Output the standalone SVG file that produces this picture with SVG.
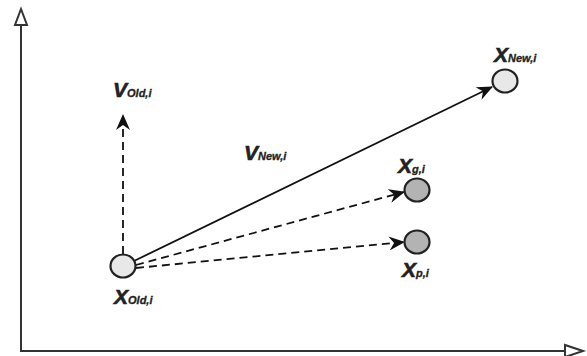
<svg xmlns="http://www.w3.org/2000/svg" width="587" height="356" viewBox="0 0 587 356">
<style>
.ax{stroke:#333;stroke-width:2;fill:none}
.tri{fill:#fff;stroke:#333;stroke-width:2}
.con{stroke:#111;stroke-width:1.8;fill:none}
.dash{stroke-dasharray:8 5}
.node{stroke:#222;stroke-width:2.2}
.light{fill:#e8e8e8}
.dark{fill:#b3b3b3}
.big{font-family:"Liberation Sans",Arial,sans-serif;font-weight:bold;font-style:italic;font-size:21px;fill:#222;stroke:#222;stroke-width:0.6}
.sub{font-size:11px;stroke-width:0.3}
</style>
<defs>
<marker id="ah" markerWidth="16" markerHeight="14" refX="15" refY="7" orient="auto" markerUnits="userSpaceOnUse">
<path d="M0,0 L16,7 L0,14 L5,7 z" fill="#111"/>
</marker>
</defs>
<g id="axes">
<line class="ax" x1="21" y1="351" x2="21" y2="25"/>
<polygon class="tri" points="21,9 15,25 27,25"/>
<line class="ax" x1="20" y1="351" x2="565" y2="351"/>
<polygon class="tri" points="583,351 565,345 565,357"/>
</g>
<g id="connectors">
<line class="con dash" x1="123" y1="254" x2="123" y2="115" marker-end="url(#ah)"/>
<line class="con" x1="134" y1="261" x2="492" y2="87" marker-end="url(#ah)"/>
<line class="con dash" x1="136" y1="265" x2="404" y2="192" marker-end="url(#ah)"/>
<line class="con dash" x1="136" y1="268" x2="404" y2="242" marker-end="url(#ah)"/>
</g>
<g id="x-old">
<ellipse class="node light" cx="123" cy="266" rx="12.5" ry="11.5"/>
<text class="big" x="114" y="304">X<tspan class="sub">Old,i</tspan></text>
</g>
<g id="v-old">
<text class="big" x="113" y="97">V<tspan class="sub">Old,i</tspan></text>
</g>
<g id="v-new">
<text class="big" x="244" y="160">V<tspan class="sub">New,i</tspan></text>
</g>
<g id="x-new">
<ellipse class="node light" cx="505" cy="81" rx="12.5" ry="11.5"/>
<text class="big" x="494" y="62">X<tspan class="sub">New,i</tspan></text>
</g>
<g id="x-g">
<ellipse class="node dark" cx="417" cy="190" rx="12.5" ry="11.5"/>
<text class="big" x="398" y="173">X<tspan class="sub">g,i</tspan></text>
</g>
<g id="x-p">
<ellipse class="node dark" cx="417" cy="242" rx="12.5" ry="11.5"/>
<text class="big" x="402" y="277">X<tspan class="sub">p,i</tspan></text>
</g>
</svg>
